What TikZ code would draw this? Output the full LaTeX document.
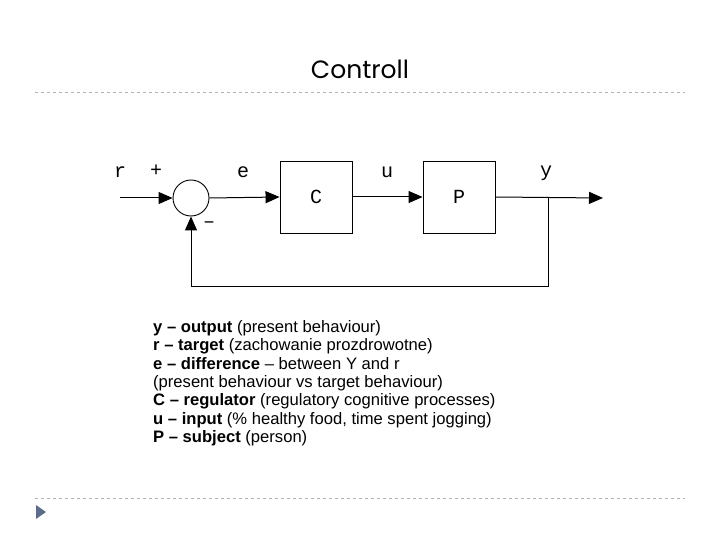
\documentclass[tikz,border=0pt]{standalone}
\usepackage{fontspec}
\setmainfont{Liberation Sans}
\newfontfamily\monof{Liberation Mono}
\newfontfamily\titlef{Poppins}
\usetikzlibrary{arrows.meta}
\begin{document}
\begin{tikzpicture}[x=1pt,y=-1pt,
  blk/.style={draw,line width=0.9pt,minimum width=72pt,minimum height=72pt,font=\monof\fontsize{20}{20}\selectfont},
  lbl/.style={font=\monof\fontsize{20}{20}\selectfont},
  wire/.style={line width=1pt},
  arr/.style={wire,-{Triangle[length=14pt,width=12pt]}},
  sep/.style={draw=gray!60,dashed,line width=0.6pt}]
\useasboundingbox (0,0) rectangle (720,540);
\node[font=\titlef\fontsize{25}{25}\selectfont] (title) at (360,69) {Controll};
\draw[sep] (35,92) -- (685,92);
\draw[sep] (35,498) -- (685,498);
\fill[fill={rgb,255:red,90;green,110;blue,140}] (36,505) -- (46,512) -- (36,519) -- cycle;
\node[draw,circle,line width=0.9pt,minimum size=36pt,inner sep=0pt] (s) at (191,198) {};
\node[blk] (C) at (316,197) {C};
\node[blk] (P) at (459,197) {P};
\coordinate (in) at (120,198);
\coordinate (out) at (603,198);
\coordinate (br) at (548,198);
\coordinate (b1) at (548,286);
\coordinate (b2) at (191,286);
\draw[arr] (in) -- (s.west);
\draw[arr] (s.east) -- (C.west);
\draw[arr] (C.east) -- (P.west);
\draw[arr] (P.east) -- (out);
\draw[arr] (br) -- (b1) -- (b2) -- (s.south);
\node[lbl] (r) at (120,172) {r};
\node[lbl] (plus) at (156,171) {+};
\node[lbl] (e) at (243,172) {e};
\node[lbl] (u) at (387,172) {u};
\node[lbl] (y) at (546,173) {y};
\node[lbl] (minus) at (209,225) {\char"2013};
\node[anchor=north west,align=left,font=\fontsize{16.6}{18.4}\selectfont,inner sep=0pt] (txt) at (153,320) {%
\textbf{y -- output} (present behaviour)\\
\textbf{r -- target} (zachowanie prozdrowotne)\\
\textbf{e -- difference} -- between Y and r\\
(present behaviour vs target behaviour)\\
\textbf{C -- regulator} (regulatory cognitive processes)\\
\textbf{u -- input} (\% healthy food, time spent jogging)\\
\textbf{P -- subject} (person)};
\end{tikzpicture}
\end{document}
